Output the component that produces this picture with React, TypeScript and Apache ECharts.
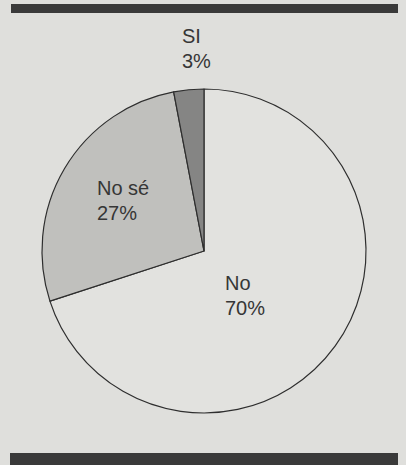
import React, { useEffect, useRef } from "react";
import * as echarts from "echarts";

const categories = ["No", "No sé", "SI"];
const values = [70, 27, 3];
const sliceColors = ["#e2e2df", "#c0c0bd", "#858584"];
const labelSpots: Record<string, [number, number]> = {
  No: [225, 295],
  "No sé": [97, 200],
  SI: [182, 48],
};

export default function App() {
  const ref = useRef<HTMLDivElement>(null);
  useEffect(() => {
    if (!ref.current) return;
    const chart = echarts.init(ref.current, undefined, { renderer: "svg" });
    chart.setOption({
      animation: false,
      backgroundColor: "#dfdfdc",
      graphic: [
        { type: "rect", shape: { x: 11, y: 4, width: 387, height: 9 }, style: { fill: "#3a3a3a" }, z: 10 },
        { type: "rect", shape: { x: 10, y: 453, width: 388, height: 14 }, style: { fill: "#3a3a3a" }, z: 10 },
      ],
      series: [
        {
          type: "pie",
          center: [204, 251],
          radius: 162,
          startAngle: 90,
          clockwise: true,
          itemStyle: { borderColor: "#2e2e2e", borderWidth: 1.2 },
          label: {
            show: true,
            position: "inside",
            formatter: (p: any) => `${p.name}\n${p.value}%`,
            fontFamily: "Liberation Sans",
            fontSize: 20,
            lineHeight: 25,
            color: "#363636",
            align: "left",
          },
          labelLine: { show: false },
          labelLayout: (params: any) => {
            const name = categories[params.dataIndex];
            const spot = labelSpots[name];
            return { x: spot[0], y: spot[1], align: "left", verticalAlign: "middle" };
          },
          data: categories.map((c, i) => ({
            name: c,
            value: values[i],
            itemStyle: { color: sliceColors[i] },
          })),
        },
      ],
    });
    return () => chart.dispose();
  }, []);
  return (
    <div
      ref={ref}
      style={{ position: "fixed", left: 0, top: 0, width: 406, height: 465 }}
    />
  );
}
